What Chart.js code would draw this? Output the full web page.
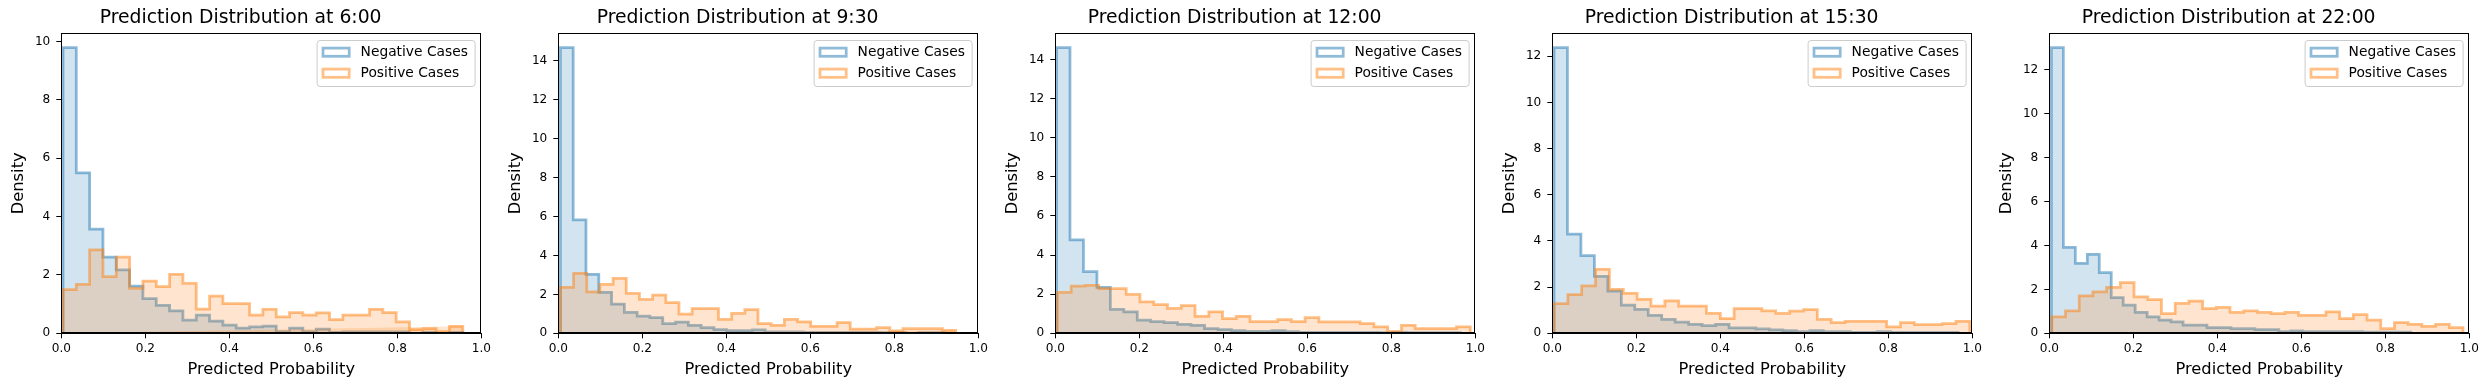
<!DOCTYPE html>
<html>
<head>
<meta charset="utf-8">
<script src="https://cdn.jsdelivr.net/npm/chart.js@4.4.1/dist/chart.umd.min.js"></script>
<style>
  body { margin: 0; background: #fff; width: 2490px; height: 390px; position: relative; overflow: hidden; }
  canvas { position: absolute; top: 0; }
</style>
</head>
<body>
<script>
// snapshot times shown in the five panels
const times = ["6:00", "9:30", "12:00", "15:30", "22:00"];

// histogram bin range [first edge, last edge] per panel (30 bins each)
const negRange = [[0.004, 0.956], [0.005, 0.919], [0.003, 0.964], [0.004, 0.966], [0.005, 0.86]];
const posRange = [[0.004, 0.956], [0.005, 0.946], [0.005, 0.988], [0.004, 0.994], [0.006, 0.985]];

// density per bin
const neg600 = [9.79, 5.50, 3.57, 2.61, 2.17, 1.62, 1.19, 0.96, 0.77, 0.45, 0.62, 0.42, 0.28, 0.18, 0.22, 0.25, 0.06, 0.18, 0.06, 0.14, 0.03, 0.05, 0.05, 0.05, 0.05, 0.05, 0.0, 0.03, 0.0, 0.03];
const pos600 = [1.50, 1.68, 2.86, 1.94, 2.61, 1.54, 1.79, 1.60, 2.02, 1.71, 0.83, 1.27, 1.02, 1.02, 0.62, 0.82, 0.56, 0.71, 0.62, 0.70, 0.47, 0.62, 0.62, 0.82, 0.71, 0.39, 0.13, 0.16, 0.06, 0.24];

const neg930 = [14.68, 5.83, 3.03, 2.10, 1.50, 1.07, 0.88, 0.81, 0.50, 0.57, 0.41, 0.29, 0.19, 0.14, 0.14, 0.17, 0.07, 0.07, 0.07, 0.05, 0.05, 0.05, 0.05, 0.05, 0.05, 0.03, 0.03, 0.0, 0.03, 0.03];
const pos930 = [2.36, 3.08, 2.13, 2.51, 2.82, 2.05, 1.74, 1.96, 1.58, 0.98, 1.27, 1.27, 0.71, 1.02, 1.22, 0.50, 0.41, 0.71, 0.59, 0.36, 0.36, 0.55, 0.22, 0.22, 0.29, 0.12, 0.24, 0.24, 0.24, 0.15];

const neg1200 = [14.61, 4.78, 3.15, 2.35, 1.22, 1.10, 0.67, 0.60, 0.55, 0.46, 0.41, 0.24, 0.19, 0.14, 0.10, 0.10, 0.14, 0.09, 0.05, 0.05, 0.05, 0.05, 0.05, 0.05, 0.03, 0.05, 0.03, 0.03, 0.03, 0.03];
const pos1200 = [2.09, 2.41, 2.45, 2.29, 2.29, 1.99, 1.61, 1.47, 1.27, 1.42, 0.87, 1.10, 0.75, 0.87, 0.60, 0.60, 0.70, 0.60, 0.80, 0.58, 0.58, 0.58, 0.50, 0.33, 0.10, 0.41, 0.24, 0.24, 0.24, 0.33];

const neg1530 = [12.38, 4.30, 3.37, 2.47, 1.83, 1.22, 1.04, 0.78, 0.60, 0.48, 0.39, 0.33, 0.39, 0.23, 0.23, 0.19, 0.15, 0.12, 0.07, 0.12, 0.07, 0.07, 0.04, 0.04, 0.07, 0.04, 0.04, 0.04, 0.04, 0.04];
const pos1530 = [1.29, 1.68, 2.05, 2.77, 1.90, 1.73, 1.47, 1.18, 1.41, 1.18, 1.18, 0.86, 0.64, 1.07, 1.07, 0.97, 0.86, 0.96, 1.03, 0.60, 0.46, 0.52, 0.52, 0.52, 0.28, 0.46, 0.38, 0.38, 0.42, 0.52];

const neg2200 = [13.02, 3.92, 3.19, 3.60, 2.76, 1.63, 1.28, 0.95, 0.75, 0.60, 0.52, 0.37, 0.37, 0.26, 0.26, 0.21, 0.21, 0.17, 0.17, 0.08, 0.11, 0.08, 0.08, 0.08, 0.08, 0.08, 0.05, 0.05, 0.05, 0.05];
const pos2200 = [0.75, 1.02, 1.71, 1.89, 2.09, 2.31, 1.66, 1.54, 0.90, 1.36, 1.47, 1.13, 1.18, 0.95, 1.02, 0.95, 0.90, 0.95, 0.82, 0.82, 0.98, 0.67, 0.85, 0.60, 0.21, 0.49, 0.41, 0.32, 0.41, 0.26];

const negSeries = [neg600, neg930, neg1200, neg1530, neg2200];
const posSeries = [pos600, pos930, pos1200, pos1530, pos2200];

const xTicks = [0, 0.2, 0.4, 0.6, 0.8, 1.0];

Chart.defaults.font.family = "'DejaVu Sans', sans-serif";
Chart.defaults.color = "#000";

const FONT = "'DejaVu Sans', sans-serif";
const PANEL_W = 497;
const PANEL_H = 390;

// turn bin range + heights into outline points of a step histogram
const makeSteps = (range, heights) => {
  const [start, end] = range;
  const w = (end - start) / heights.length;
  const pts = [{ x: start, y: 0 }];
  heights.forEach((h, i) => pts.push({ x: start + (i + 1) * w, y: h }));
  pts.push({ x: end, y: 0 });
  return pts;
};

// full black box round the plot, like matplotlib spines
const framePlugin = {
  id: "frame",
  afterDatasetsDraw(chart) {
    const { ctx, chartArea: ca } = chart;
    ctx.save();
    ctx.strokeStyle = "#000";
    ctx.lineWidth = 1;
    const l = Math.round(ca.left) + 0.5;
    const r = Math.round(ca.right) - 0.5;
    const t = Math.round(ca.top) + 0.5;
    const b = Math.round(ca.bottom) - 0.5;
    ctx.strokeRect(l, t, r - l, b - t);
    ctx.restore();
  },
};

// legend box in the upper right corner of the plot
const legendPlugin = {
  id: "boxLegend",
  afterDraw(chart) {
    const { ctx, chartArea: ca } = chart;
    const w = 158;
    const h = 46;
    const x = ca.right - 6.7 - w;
    const y = ca.top + 6.7;
    ctx.save();
    ctx.beginPath();
    ctx.roundRect(x + 0.5, y + 0.5, w, h, 3);
    ctx.fillStyle = "rgba(255,255,255,0.8)";
    ctx.fill();
    ctx.strokeStyle = "#cccccc";
    ctx.lineWidth = 1;
    ctx.stroke();
    const items = chart.data.datasets.slice().sort((a, b) => b.order - a.order);
    items.forEach((ds, i) => {
      const rowY = y + i * 21;
      ctx.strokeStyle = ds.borderColor;
      ctx.lineWidth = 2.75;
      ctx.lineJoin = "miter";
      ctx.strokeRect(x + 6.4, rowY + 8.1, 26.2, 8.2);
      ctx.fillStyle = "#000";
      ctx.font = `13.8px ${FONT}`;
      ctx.textBaseline = "middle";
      ctx.textAlign = "left";
      ctx.fillText(ds.label, x + 44, rowY + 12.6);
    });
    ctx.restore();
  },
};

times.forEach((t, i) => {
  const canvas = document.createElement("canvas");
  canvas.width = PANEL_W;
  canvas.height = PANEL_H;
  canvas.style.left = i * PANEL_W + "px";
  document.body.appendChild(canvas);

  const neg = negSeries[i];
  const pos = posSeries[i];
  const yMax = Math.max(...neg, ...pos) * 1.05;

  new Chart(canvas, {
    type: "line",
    data: {
      datasets: [
        {
          label: "Negative Cases",
          data: makeSteps(negRange[i], neg),
          stepped: "after",
          borderColor: "rgba(31,119,180,0.5)",
          backgroundColor: "rgba(31,119,180,0.2)",
          fill: "origin",
          borderWidth: 2.75,
          borderJoinStyle: "miter",
          pointRadius: 0,
          order: 2,
        },
        {
          label: "Positive Cases",
          data: makeSteps(posRange[i], pos),
          stepped: "after",
          borderColor: "rgba(255,127,14,0.5)",
          backgroundColor: "rgba(255,127,14,0.2)",
          fill: "origin",
          borderWidth: 2.75,
          borderJoinStyle: "miter",
          pointRadius: 0,
          order: 1,
        },
      ],
    },
    options: {
      responsive: false,
      animation: false,
      devicePixelRatio: 1,
      layout: { padding: { left: 0, right: PANEL_W - 61.3 - 420, top: 0, bottom: 0 } },
      plugins: {
        legend: { display: false },
        tooltip: { enabled: false },
        title: {
          display: true,
          text: `Prediction Distribution at ${t}`,
          color: "#000",
          font: { size: 18.8, weight: "normal", family: FONT },
          padding: { top: 6.7, bottom: 4.04 },
        },
      },
      scales: {
        x: {
          type: "linear",
          min: 0,
          max: 1,
          afterBuildTicks: (axis) => {
            axis.ticks = xTicks.map((v) => ({ value: v }));
          },
          ticks: {
            callback: (v) => Number(v).toFixed(1),
            font: { size: 12.1, family: FONT },
            color: "#000",
            padding: 3,
            maxRotation: 0,
            autoSkip: false,
          },
          grid: { drawOnChartArea: false, drawTicks: true, tickLength: 5, tickColor: "#000", offset: false },
          border: { display: true, color: "#000", width: 1 },
          title: {
            display: true,
            text: "Predicted Probability",
            color: "#000",
            font: { size: 16.3, family: FONT },
            padding: { top: 0, bottom: 10.2 },
          },
          afterFit: (axis) => {
            axis.height = PANEL_H - 333.3;
          },
        },
        y: {
          min: 0,
          max: yMax,
          ticks: {
            stepSize: 2,
            includeBounds: false,
            font: { size: 12.1, family: FONT },
            color: "#000",
            padding: 6,
          },
          grid: { drawOnChartArea: false, drawTicks: true, tickLength: 5, tickColor: "#000", offset: false },
          border: { display: true, color: "#000", width: 1 },
          title: {
            display: true,
            text: "Density",
            color: "#000",
            font: { size: 16.3, family: FONT },
            padding: { top: 9.2, bottom: 0 },
          },
          afterFit: (axis) => {
            axis.width = 61.3;
          },
        },
      },
    },
    plugins: [framePlugin, legendPlugin],
  });
});
</script>
</body>
</html>
